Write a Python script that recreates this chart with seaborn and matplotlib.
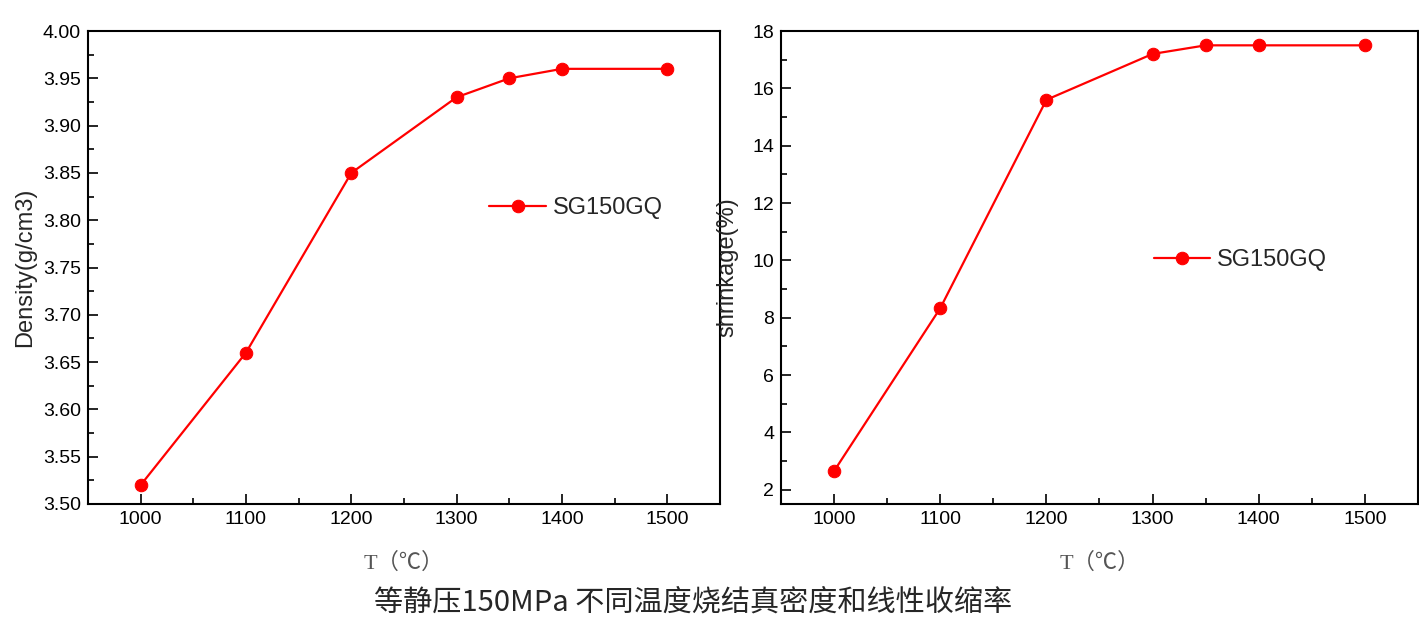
import matplotlib
matplotlib.use("Agg")
import matplotlib.pyplot as plt
from matplotlib.ticker import MultipleLocator, FormatStrFormatter
import seaborn as sns
import pandas as pd

# data
temps = [1000, 1100, 1200, 1300, 1350, 1400, 1500]
density = [3.52, 3.66, 3.85, 3.93, 3.95, 3.96, 3.96]
shrinkage = [2.65, 8.33, 15.6, 17.2, 17.5, 17.5, 17.5]
series_name = "SG150GQ"
title = "等静压150MPa 不同温度烧结真密度和线性收缩率"

sns.set_theme(style="ticks")
plt.rcParams["font.family"] = ["Liberation Sans", "Noto Sans CJK SC", "DejaVu Sans"]

df = pd.DataFrame({"T": temps, "density": density, "shrinkage": shrinkage, "name": series_name})

fig = plt.figure(figsize=(14.19, 6.25), dpi=100)
W, H = 1419, 625
ax1 = fig.add_axes([88 / W, 1 - 504 / H, (720 - 88) / W, (504 - 31) / H])
ax2 = fig.add_axes([781 / W, 1 - 504 / H, (1418 - 781) / W, (504 - 31) / H])


def draw(ax, col, ylabel, ylim, major, minor, leg_pos):
    sns.lineplot(data=df, x="T", y=col, ax=ax, color="#ff0000", marker="o",
                 markersize=9, markeredgecolor="#ff0000", linewidth=1.6,
                 label=series_name)
    ax.set_xlim(950, 1550)
    ax.set_ylim(*ylim)
    ax.set_xticks([1000, 1100, 1200, 1300, 1400, 1500])
    ax.xaxis.set_minor_locator(MultipleLocator(50))
    ax.yaxis.set_major_locator(MultipleLocator(major))
    ax.yaxis.set_minor_locator(MultipleLocator(minor))
    ax.tick_params(which="both", direction="in", top=False, right=False,
                   colors="black", labelsize=14)
    ax.tick_params(which="major", length=7, width=1.2, pad=5)
    ax.tick_params(which="minor", length=4, width=1.2)
    for s in ax.spines.values():
        s.set_color("black")
        s.set_linewidth(1.5)
    ax.set_xlabel("T（℃）", fontsize=16, color="#555555", labelpad=18,
                  family=["Liberation Serif", "Noto Sans CJK SC"])
    ax.set_ylabel(ylabel, fontsize=17, labelpad=5)
    ax.legend(loc="center left", bbox_to_anchor=leg_pos, frameon=False,
              fontsize=17, handlelength=2.4, handletextpad=0.3,
              borderaxespad=0)


draw(ax1, "density", "Density(g/cm3)", (3.5, 4.0), 0.05, 0.025, (0.62, 0.626))
ax1.yaxis.set_major_formatter(FormatStrFormatter("%.2f"))
draw(ax2, "shrinkage", "shrinkage(%)", (1.5, 18), 2, 1, (0.57, 0.516))
ax2.yaxis.labelpad = 10

fig.text(693 / W, 1 - 603 / H, title, ha="center", va="center", fontsize=21,
         family=["Noto Sans CJK SC", "DejaVu Sans"])

fig.savefig("out.png", dpi=100)
